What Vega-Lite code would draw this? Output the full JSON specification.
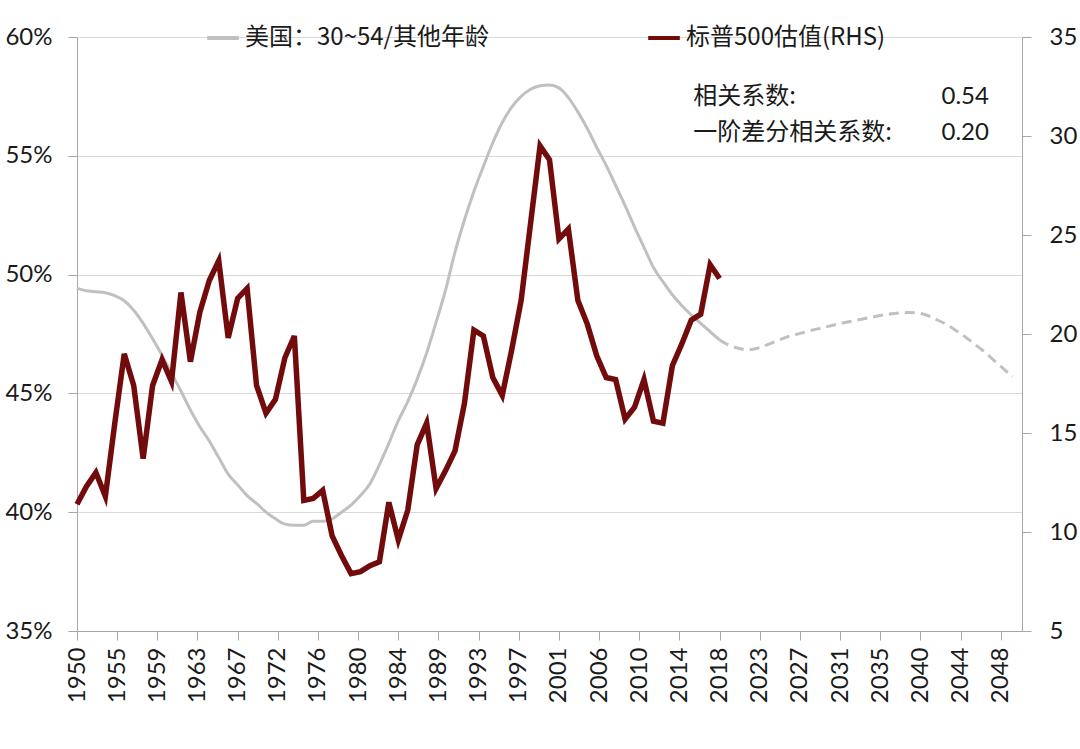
{
  "$schema": "https://vega.github.io/schema/vega-lite/v6.json",
  "width": 945,
  "height": 594,
  "autosize": "none",
  "padding": {"left": 77, "top": 37, "right": 58, "bottom": 118},
  "background": "white",
  "config": {
    "view": {"stroke": null},
    "axis": {
      "labelFont": "Lato",
      "labelFontSize": 24,
      "labelColor": "#1a1a1a",
      "domainColor": "#a6a6a6",
      "tickColor": "#a6a6a6",
      "tickSize": 9,
      "gridColor": "#d9d9d9",
      "title": null
    },
    "legend": {
      "orient": "none",
      "legendX": 128,
      "legendY": -17,
      "direction": "horizontal",
      "symbolType": "stroke",
      "symbolSize": 1000,
      "symbolStrokeWidth": 4,
      "labelFont": "Noto Sans CJK SC",
      "labelFontSize": 24,
      "labelColor": "#1a1a1a",
      "labelLimit": 0,
      "labelOffset": 4,
      "columnPadding": 150,
      "title": null
    },
    "text": {"font": "Noto Sans CJK SC", "fontSize": 24, "color": "#1a1a1a"}
  },
  "datasets": {
    "ratio": [
      {"year": 1950, "ratio": 0.4942, "phase": "actual"},
      {"year": 1951, "ratio": 0.4932, "phase": "actual"},
      {"year": 1952, "ratio": 0.4928, "phase": "actual"},
      {"year": 1953, "ratio": 0.4924, "phase": "actual"},
      {"year": 1954, "ratio": 0.4912, "phase": "actual"},
      {"year": 1955, "ratio": 0.489, "phase": "actual"},
      {"year": 1956, "ratio": 0.485, "phase": "actual"},
      {"year": 1957, "ratio": 0.4795, "phase": "actual"},
      {"year": 1958, "ratio": 0.473, "phase": "actual"},
      {"year": 1959, "ratio": 0.466, "phase": "actual"},
      {"year": 1960, "ratio": 0.4585, "phase": "actual"},
      {"year": 1961, "ratio": 0.451, "phase": "actual"},
      {"year": 1962, "ratio": 0.443, "phase": "actual"},
      {"year": 1963, "ratio": 0.436, "phase": "actual"},
      {"year": 1964, "ratio": 0.43, "phase": "actual"},
      {"year": 1965, "ratio": 0.423, "phase": "actual"},
      {"year": 1966, "ratio": 0.416, "phase": "actual"},
      {"year": 1967, "ratio": 0.4115, "phase": "actual"},
      {"year": 1968, "ratio": 0.407, "phase": "actual"},
      {"year": 1969, "ratio": 0.4037, "phase": "actual"},
      {"year": 1970, "ratio": 0.4, "phase": "actual"},
      {"year": 1971, "ratio": 0.3972, "phase": "actual"},
      {"year": 1972, "ratio": 0.395, "phase": "actual"},
      {"year": 1973, "ratio": 0.3945, "phase": "actual"},
      {"year": 1974, "ratio": 0.3945, "phase": "actual"},
      {"year": 1975, "ratio": 0.3962, "phase": "actual"},
      {"year": 1976, "ratio": 0.3962, "phase": "actual"},
      {"year": 1977, "ratio": 0.3972, "phase": "actual"},
      {"year": 1978, "ratio": 0.4, "phase": "actual"},
      {"year": 1979, "ratio": 0.403, "phase": "actual"},
      {"year": 1980, "ratio": 0.407, "phase": "actual"},
      {"year": 1981, "ratio": 0.412, "phase": "actual"},
      {"year": 1982, "ratio": 0.42, "phase": "actual"},
      {"year": 1983, "ratio": 0.429, "phase": "actual"},
      {"year": 1984, "ratio": 0.4385, "phase": "actual"},
      {"year": 1985, "ratio": 0.4465, "phase": "actual"},
      {"year": 1986, "ratio": 0.456, "phase": "actual"},
      {"year": 1987, "ratio": 0.467, "phase": "actual"},
      {"year": 1988, "ratio": 0.48, "phase": "actual"},
      {"year": 1989, "ratio": 0.4935, "phase": "actual"},
      {"year": 1990, "ratio": 0.5095, "phase": "actual"},
      {"year": 1991, "ratio": 0.523, "phase": "actual"},
      {"year": 1992, "ratio": 0.535, "phase": "actual"},
      {"year": 1993, "ratio": 0.5455, "phase": "actual"},
      {"year": 1994, "ratio": 0.5555, "phase": "actual"},
      {"year": 1995, "ratio": 0.564, "phase": "actual"},
      {"year": 1996, "ratio": 0.5705, "phase": "actual"},
      {"year": 1997, "ratio": 0.575, "phase": "actual"},
      {"year": 1998, "ratio": 0.578, "phase": "actual"},
      {"year": 1999, "ratio": 0.5795, "phase": "actual"},
      {"year": 2000, "ratio": 0.5798, "phase": "actual"},
      {"year": 2001, "ratio": 0.5786, "phase": "actual"},
      {"year": 2002, "ratio": 0.5745, "phase": "actual"},
      {"year": 2003, "ratio": 0.5685, "phase": "actual"},
      {"year": 2004, "ratio": 0.5615, "phase": "actual"},
      {"year": 2005, "ratio": 0.5535, "phase": "actual"},
      {"year": 2006, "ratio": 0.546, "phase": "actual"},
      {"year": 2007, "ratio": 0.5375, "phase": "actual"},
      {"year": 2008, "ratio": 0.529, "phase": "actual"},
      {"year": 2009, "ratio": 0.52, "phase": "actual"},
      {"year": 2010, "ratio": 0.5115, "phase": "actual"},
      {"year": 2011, "ratio": 0.503, "phase": "actual"},
      {"year": 2012, "ratio": 0.497, "phase": "actual"},
      {"year": 2013, "ratio": 0.4915, "phase": "actual"},
      {"year": 2014, "ratio": 0.487, "phase": "actual"},
      {"year": 2015, "ratio": 0.483, "phase": "actual"},
      {"year": 2016, "ratio": 0.4795, "phase": "actual"},
      {"year": 2017, "ratio": 0.476, "phase": "actual"},
      {"year": 2018, "ratio": 0.4725, "phase": "actual"},
      {"year": 2018, "ratio": 0.4725, "phase": "forecast"},
      {"year": 2019, "ratio": 0.4703, "phase": "forecast"},
      {"year": 2020, "ratio": 0.469, "phase": "forecast"},
      {"year": 2021, "ratio": 0.4684, "phase": "forecast"},
      {"year": 2022, "ratio": 0.469, "phase": "forecast"},
      {"year": 2023, "ratio": 0.4704, "phase": "forecast"},
      {"year": 2024, "ratio": 0.472, "phase": "forecast"},
      {"year": 2025, "ratio": 0.4736, "phase": "forecast"},
      {"year": 2026, "ratio": 0.4747, "phase": "forecast"},
      {"year": 2027, "ratio": 0.4758, "phase": "forecast"},
      {"year": 2028, "ratio": 0.4768, "phase": "forecast"},
      {"year": 2029, "ratio": 0.4777, "phase": "forecast"},
      {"year": 2030, "ratio": 0.4787, "phase": "forecast"},
      {"year": 2031, "ratio": 0.4796, "phase": "forecast"},
      {"year": 2032, "ratio": 0.4804, "phase": "forecast"},
      {"year": 2033, "ratio": 0.4812, "phase": "forecast"},
      {"year": 2034, "ratio": 0.482, "phase": "forecast"},
      {"year": 2035, "ratio": 0.4828, "phase": "forecast"},
      {"year": 2036, "ratio": 0.4834, "phase": "forecast"},
      {"year": 2037, "ratio": 0.4838, "phase": "forecast"},
      {"year": 2038, "ratio": 0.484, "phase": "forecast"},
      {"year": 2039, "ratio": 0.4838, "phase": "forecast"},
      {"year": 2040, "ratio": 0.4828, "phase": "forecast"},
      {"year": 2041, "ratio": 0.481, "phase": "forecast"},
      {"year": 2042, "ratio": 0.479, "phase": "forecast"},
      {"year": 2043, "ratio": 0.4765, "phase": "forecast"},
      {"year": 2044, "ratio": 0.4738, "phase": "forecast"},
      {"year": 2045, "ratio": 0.4707, "phase": "forecast"},
      {"year": 2046, "ratio": 0.4676, "phase": "forecast"},
      {"year": 2047, "ratio": 0.464, "phase": "forecast"},
      {"year": 2048, "ratio": 0.4605, "phase": "forecast"},
      {"year": 2049, "ratio": 0.457, "phase": "forecast"}
    ],
    "pe": [
      {"year": 1950, "pe": 11.4}, {"year": 1951, "pe": 12.3}, {"year": 1952, "pe": 13.0},
      {"year": 1953, "pe": 11.8}, {"year": 1954, "pe": 15.5}, {"year": 1955, "pe": 19.0},
      {"year": 1956, "pe": 17.4}, {"year": 1957, "pe": 13.7}, {"year": 1958, "pe": 17.4},
      {"year": 1959, "pe": 18.7}, {"year": 1960, "pe": 17.6}, {"year": 1961, "pe": 22.1},
      {"year": 1962, "pe": 18.6}, {"year": 1963, "pe": 21.1}, {"year": 1964, "pe": 22.7},
      {"year": 1965, "pe": 23.7}, {"year": 1966, "pe": 19.8}, {"year": 1967, "pe": 21.8},
      {"year": 1968, "pe": 22.3}, {"year": 1969, "pe": 17.4}, {"year": 1970, "pe": 16.0},
      {"year": 1971, "pe": 16.7}, {"year": 1972, "pe": 18.8}, {"year": 1973, "pe": 19.9},
      {"year": 1974, "pe": 11.6}, {"year": 1975, "pe": 11.7}, {"year": 1976, "pe": 12.1},
      {"year": 1977, "pe": 9.8}, {"year": 1978, "pe": 8.8}, {"year": 1979, "pe": 7.9},
      {"year": 1980, "pe": 8.0}, {"year": 1981, "pe": 8.3}, {"year": 1982, "pe": 8.5},
      {"year": 1983, "pe": 11.5}, {"year": 1984, "pe": 9.6}, {"year": 1985, "pe": 11.1},
      {"year": 1986, "pe": 14.4}, {"year": 1987, "pe": 15.5}, {"year": 1988, "pe": 12.2},
      {"year": 1989, "pe": 13.1}, {"year": 1990, "pe": 14.1}, {"year": 1991, "pe": 16.5},
      {"year": 1992, "pe": 20.2}, {"year": 1993, "pe": 19.9}, {"year": 1994, "pe": 17.8},
      {"year": 1995, "pe": 16.9}, {"year": 1996, "pe": 19.2}, {"year": 1997, "pe": 21.7},
      {"year": 1998, "pe": 25.6}, {"year": 1999, "pe": 29.5}, {"year": 2000, "pe": 28.8},
      {"year": 2001, "pe": 24.8}, {"year": 2002, "pe": 25.3}, {"year": 2003, "pe": 21.7},
      {"year": 2004, "pe": 20.5}, {"year": 2005, "pe": 18.9}, {"year": 2006, "pe": 17.8},
      {"year": 2007, "pe": 17.7}, {"year": 2008, "pe": 15.7}, {"year": 2009, "pe": 16.3},
      {"year": 2010, "pe": 17.7}, {"year": 2011, "pe": 15.6}, {"year": 2012, "pe": 15.5},
      {"year": 2013, "pe": 18.4}, {"year": 2014, "pe": 19.5}, {"year": 2015, "pe": 20.7},
      {"year": 2016, "pe": 21.0}, {"year": 2017, "pe": 23.5}, {"year": 2018, "pe": 22.8}
    ]
  },
  "layer": [
    {
      "layer": [
        {
          "data": {"name": "ratio"},
          "transform": [{"filter": "datum.phase == 'actual'"}],
          "mark": {"type": "line", "strokeWidth": 3, "interpolate": "monotone"},
          "encoding": {
            "x": {
              "field": "year",
              "type": "quantitative",
              "scale": {"domain": [1950, 2050], "nice": false, "zero": false},
              "axis": {
                "values": [1950, 1954.25, 1958.5, 1962.75, 1967, 1971.25, 1975.5, 1979.75, 1984, 1988.25, 1992.5, 1996.75, 2001, 2005.25, 2009.5, 2013.75, 2018, 2022.25, 2026.5, 2030.75, 2035, 2039.25, 2043.5, 2047.75],
                "labelExpr": "'' + ceil(datum.value)",
                "labelAngle": -90,
                "labelOverlap": false,
                "labelFlush": false,
                "labelPadding": 7,
                "grid": false
              }
            },
            "y": {
              "field": "ratio",
              "type": "quantitative",
              "scale": {"domain": [0.35, 0.6], "nice": false, "zero": false},
              "axis": {
                "values": [0.35, 0.4, 0.45, 0.5, 0.55, 0.6],
                "format": ".0%",
                "grid": true,
                "labelPadding": 16
              }
            },
            "color": {
              "datum": "美国：30~54/其他年龄",
              "type": "nominal",
              "scale": {"domain": ["美国：30~54/其他年龄", "标普500估值(RHS)"], "range": ["#c0c0c0", "#720c0c"]}
            }
          }
        },
        {
          "data": {"name": "ratio"},
          "transform": [{"filter": "datum.phase == 'forecast'"}],
          "mark": {"type": "line", "strokeWidth": 3, "interpolate": "monotone", "strokeDash": [10, 6]},
          "encoding": {
            "x": {"field": "year", "type": "quantitative"},
            "y": {"field": "ratio", "type": "quantitative"},
            "color": {"datum": "美国：30~54/其他年龄", "type": "nominal"}
          }
        },
        {
          "data": {"values": [{}]},
          "mark": {"type": "text", "align": "left", "baseline": "middle"},
          "encoding": {
            "x": {"datum": 2015.2, "type": "quantitative"},
            "y": {"datum": 0.5747, "type": "quantitative"},
            "text": {"value": "相关系数:"}
          }
        },
        {
          "data": {"values": [{}]},
          "mark": {"type": "text", "align": "left", "baseline": "middle"},
          "encoding": {
            "x": {"datum": 2015.2, "type": "quantitative"},
            "y": {"datum": 0.5596, "type": "quantitative"},
            "text": {"value": "一阶差分相关系数:"}
          }
        },
        {
          "data": {"values": [{}]},
          "mark": {"type": "text", "align": "right", "baseline": "middle", "font": "Lato"},
          "encoding": {
            "x": {"datum": 2046.5, "type": "quantitative"},
            "y": {"datum": 0.5747, "type": "quantitative"},
            "text": {"value": "0.54"}
          }
        },
        {
          "data": {"values": [{}]},
          "mark": {"type": "text", "align": "right", "baseline": "middle", "font": "Lato"},
          "encoding": {
            "x": {"datum": 2046.5, "type": "quantitative"},
            "y": {"datum": 0.5596, "type": "quantitative"},
            "text": {"value": "0.20"}
          }
        }
      ]
    },
    {
      "data": {"name": "pe"},
      "mark": {"type": "line", "strokeWidth": 5.5, "strokeJoin": "miter"},
      "encoding": {
        "x": {"field": "year", "type": "quantitative"},
        "y": {
          "field": "pe",
          "type": "quantitative",
          "scale": {"domain": [5, 35], "nice": false, "zero": false},
          "axis": {
            "orient": "right",
            "values": [5, 10, 15, 20, 25, 30, 35],
            "format": "d",
            "grid": false,
            "labelPadding": 18
          }
        },
        "color": {"datum": "标普500估值(RHS)", "type": "nominal"}
      }
    }
  ],
  "resolve": {"scale": {"y": "independent"}}
}
